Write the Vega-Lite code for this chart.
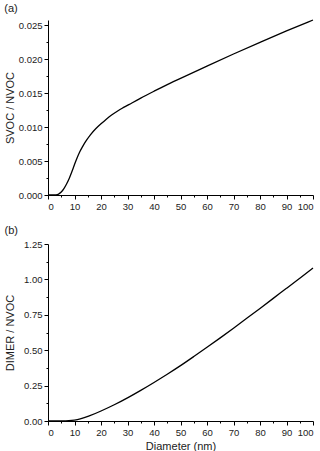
{
  "$schema": "https://vega.github.io/schema/vega-lite/v6.json",
  "padding": {"left": 4, "top": 3, "right": 0, "bottom": 2},
  "background": "white",
  "spacing": 14,
  "config": {
    "view": {"stroke": null},
    "font": "Liberation Sans",
    "axis": {
      "grid": false,
      "domainColor": "#000",
      "tickColor": "#000",
      "labelColor": "#222",
      "titleColor": "#222",
      "labelFont": "Liberation Sans",
      "titleFont": "Liberation Sans",
      "labelFontSize": 9.5,
      "titleFontSize": 11,
      "titleFontWeight": "normal",
      "labelPadding": 2
    },
    "title": {"font": "Liberation Sans", "fontSize": 11, "fontWeight": "normal", "color": "#222", "anchor": "start", "frame": "bounds", "offset": 3}
  },
  "datasets": {
    "svoc": [
      {"d": 0, "v": 0}, {"d": 2, "v": 0}, {"d": 3, "v": 0.00002}, {"d": 4, "v": 0.0001},
      {"d": 5, "v": 0.0004}, {"d": 6, "v": 0.0009}, {"d": 7, "v": 0.0016}, {"d": 8, "v": 0.0024},
      {"d": 9, "v": 0.0034}, {"d": 10, "v": 0.0045}, {"d": 11, "v": 0.0055}, {"d": 12, "v": 0.0064},
      {"d": 13, "v": 0.0071}, {"d": 14, "v": 0.0078}, {"d": 16, "v": 0.0089}, {"d": 18, "v": 0.0098},
      {"d": 20, "v": 0.0105}, {"d": 22, "v": 0.0112}, {"d": 24, "v": 0.0118}, {"d": 26, "v": 0.0123},
      {"d": 28, "v": 0.0128}, {"d": 30, "v": 0.0132}, {"d": 35, "v": 0.0143}, {"d": 40, "v": 0.0153},
      {"d": 45, "v": 0.0163}, {"d": 50, "v": 0.0172}, {"d": 60, "v": 0.019}, {"d": 70, "v": 0.0208},
      {"d": 80, "v": 0.0225}, {"d": 90, "v": 0.0242}, {"d": 100, "v": 0.0258}
    ],
    "dimer": [
      {"d": 0, "v": 0}, {"d": 3, "v": 0}, {"d": 5, "v": 0.0005}, {"d": 8, "v": 0.002},
      {"d": 10, "v": 0.006}, {"d": 12, "v": 0.013}, {"d": 15, "v": 0.03}, {"d": 20, "v": 0.07},
      {"d": 25, "v": 0.114}, {"d": 30, "v": 0.163}, {"d": 35, "v": 0.216}, {"d": 40, "v": 0.272},
      {"d": 45, "v": 0.33}, {"d": 50, "v": 0.39}, {"d": 55, "v": 0.455}, {"d": 60, "v": 0.52},
      {"d": 65, "v": 0.587}, {"d": 70, "v": 0.655}, {"d": 75, "v": 0.725}, {"d": 80, "v": 0.795},
      {"d": 85, "v": 0.866}, {"d": 90, "v": 0.937}, {"d": 95, "v": 1.008}, {"d": 100, "v": 1.08}
    ]
  },
  "vconcat": [
    {
      "title": "(a)",
      "width": 265,
      "height": 175,
      "data": {"name": "svoc"},
      "mark": {"type": "line", "color": "#000", "strokeWidth": 1.3, "interpolate": "basis"},
      "encoding": {
        "x": {
          "field": "d", "type": "quantitative",
          "scale": {"domain": [0, 100], "nice": false},
          "axis": {
            "title": null,
            "values": [0,5,10,15,20,25,30,35,40,45,50,55,60,65,70,75,80,85,90,95,100],
            "labelExpr": "datum.value % 10 == 0 ? datum.label : ''",
            "tickSize": {"condition": {"test": "datum.value % 10 == 0", "value": 4}, "value": 2}
          }
        },
        "y": {
          "field": "v", "type": "quantitative",
          "scale": {"domain": [0, 0.0258], "nice": false, "zero": true},
          "axis": {
            "title": "SVOC / NVOC",
            "titlePadding": 3,
            "format": ".3f",
            "values": [0,0.0025,0.005,0.0075,0.01,0.0125,0.015,0.0175,0.02,0.0225,0.025],
            "labelExpr": "round(datum.value / 0.0025) % 2 == 0 ? datum.label : ''",
            "tickSize": {"condition": {"test": "round(datum.value / 0.0025) % 2 == 0", "value": 4}, "value": 2}
          }
        }
      }
    },
    {
      "title": "(b)",
      "width": 265,
      "height": 177,
      "data": {"name": "dimer"},
      "mark": {"type": "line", "color": "#000", "strokeWidth": 1.3, "interpolate": "basis"},
      "encoding": {
        "x": {
          "field": "d", "type": "quantitative",
          "scale": {"domain": [0, 100], "nice": false},
          "axis": {
            "title": "Diameter (nm)",
            "titlePadding": 4,
            "values": [0,5,10,15,20,25,30,35,40,45,50,55,60,65,70,75,80,85,90,95,100],
            "labelExpr": "datum.value % 10 == 0 ? datum.label : ''",
            "tickSize": {"condition": {"test": "datum.value % 10 == 0", "value": 4}, "value": 2}
          }
        },
        "y": {
          "field": "v", "type": "quantitative",
          "scale": {"domain": [0, 1.25], "nice": false},
          "axis": {
            "title": "DIMER / NVOC",
            "titlePadding": 8,
            "format": ".2f",
            "values": [0,0.125,0.25,0.375,0.5,0.625,0.75,0.875,1,1.125,1.25],
            "labelExpr": "round(datum.value / 0.125) % 2 == 0 ? datum.label : ''",
            "tickSize": {"condition": {"test": "round(datum.value / 0.125) % 2 == 0", "value": 4}, "value": 2}
          }
        }
      }
    }
  ]
}
